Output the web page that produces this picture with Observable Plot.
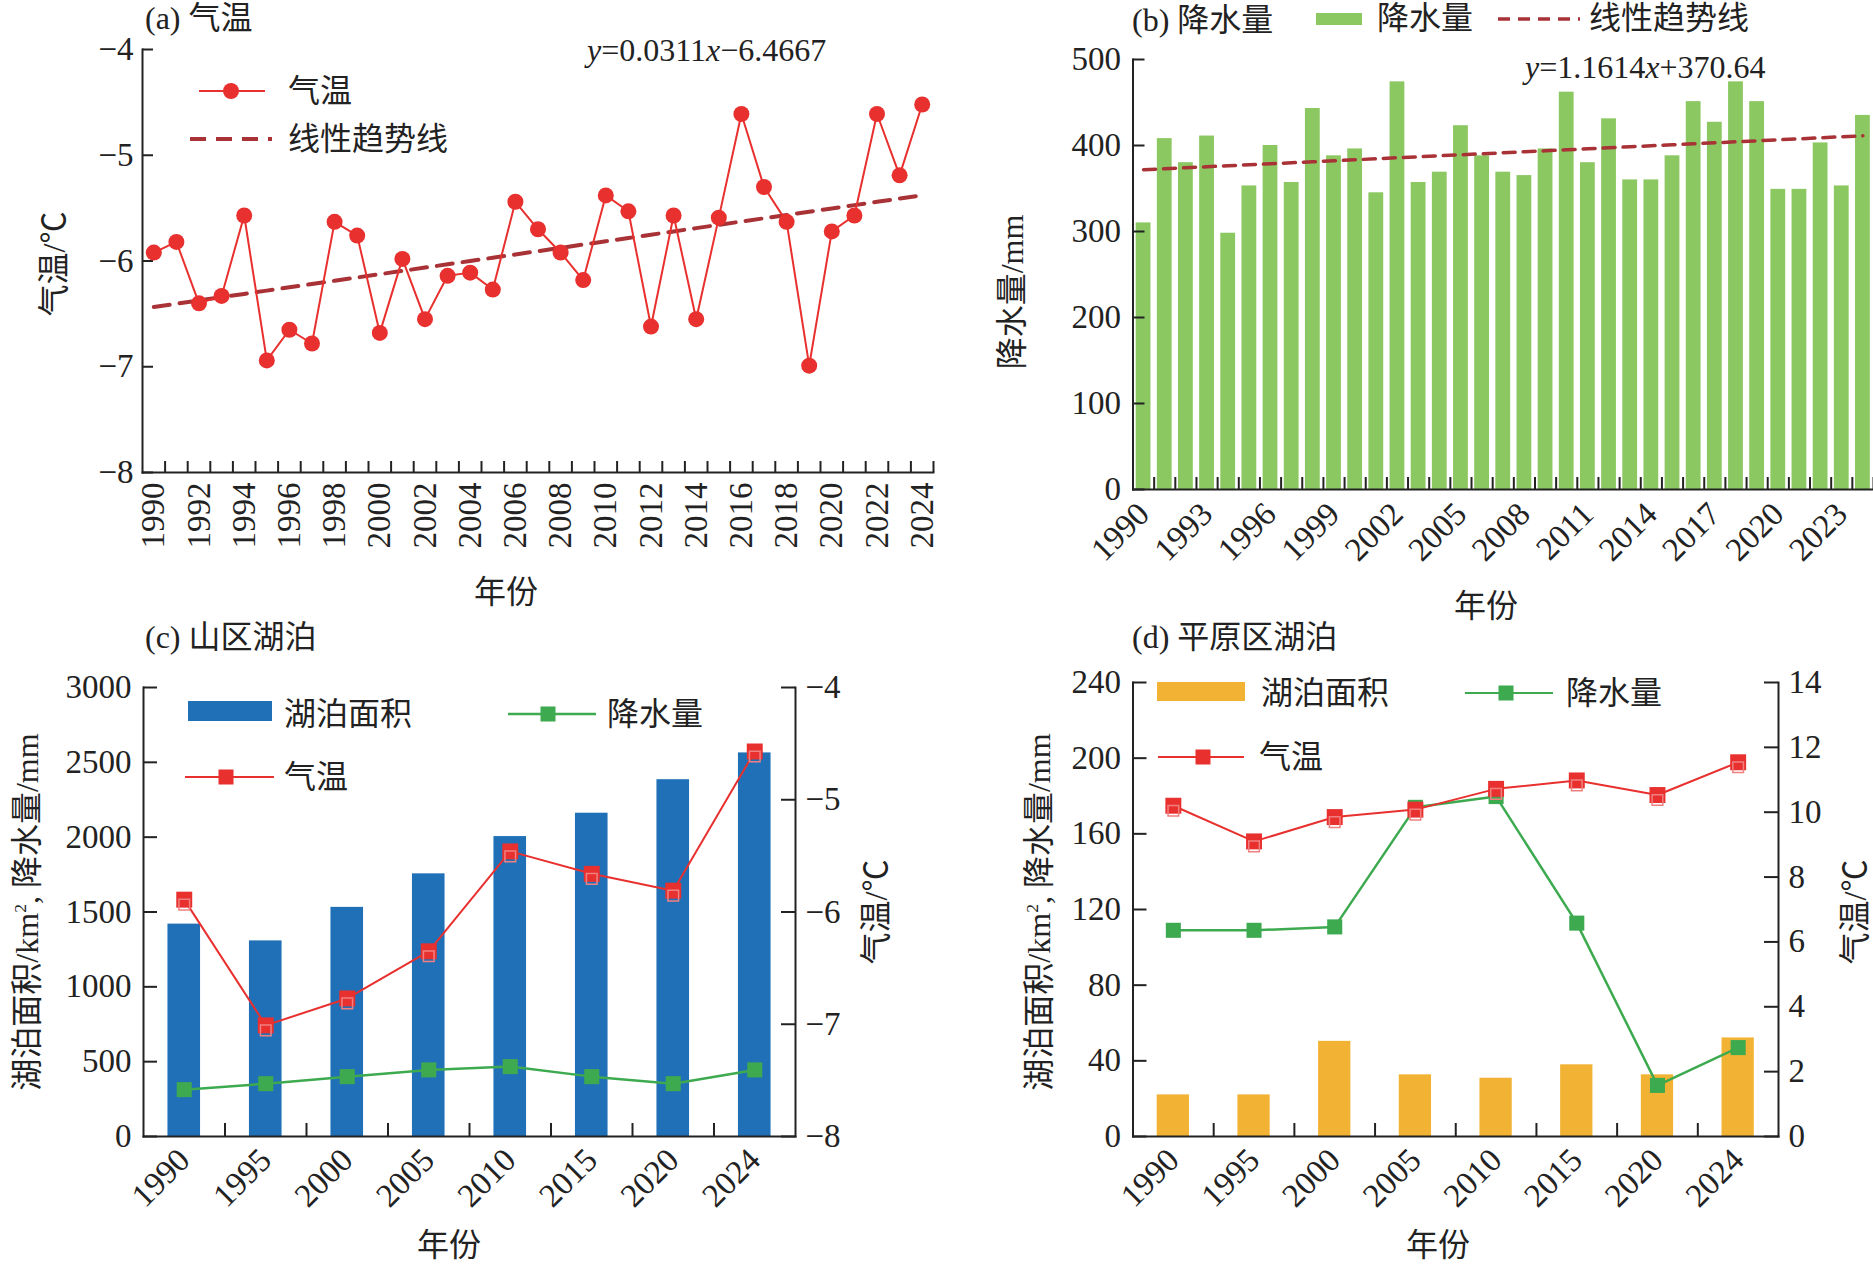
<!DOCTYPE html>
<html><head><meta charset="utf-8">
<script src="https://cdn.jsdelivr.net/npm/d3@7"></script>
<script src="https://cdn.jsdelivr.net/npm/@observablehq/plot@0.6"></script>
<style>
body{margin:0;background:#fff;}
#page{position:relative;width:1873px;height:1264px;overflow:hidden;font-family:"Liberation Serif","Noto Sans CJK SC",serif;color:#222;}
.box{position:absolute;}
.t{position:absolute;white-space:nowrap;font-size:32px;line-height:1;transform:translateY(-50%);}
.rot{position:absolute;white-space:nowrap;font-size:32px;line-height:1;transform:translate(-50%,-50%) rotate(-90deg);}
.ctr{position:absolute;white-space:nowrap;font-size:32px;line-height:1;transform:translate(-50%,-50%);}
sup{font-size:0.55em;vertical-align:0.7em;line-height:0;}
</style></head><body><div id="page"></div>
<script>
// ---------------- data ----------------
const years = [1990,1991,1992,1993,1994,1995,1996,1997,1998,1999,2000,2001,2002,2003,2004,2005,2006,2007,2008,2009,2010,2011,2012,2013,2014,2015,2016,2017,2018,2019,2020,2021,2022,2023,2024];
const tempA = [-5.92,-5.82,-6.40,-6.33,-5.57,-6.94,-6.65,-6.78,-5.63,-5.76,-6.68,-5.98,-6.55,-6.14,-6.11,-6.27,-5.44,-5.70,-5.92,-6.18,-5.38,-5.53,-6.62,-5.57,-6.55,-5.59,-4.61,-5.30,-5.63,-6.99,-5.72,-5.57,-4.61,-5.19,-4.52];
const trendA = {slope: 0.0311, intercept: -6.4667};
const precipB = [310,408,380,411,298,353,400,357,443,388,396,345,474,357,369,423,388,369,365,396,462,380,431,360,360,388,451,427,474,451,349,349,403,353,435];
const trendB = {slope: 1.1614, intercept: 370.64};
const periods = ["1990","1995","2000","2005","2010","2015","2020","2024"];
const mtnArea = [1419,1307,1531,1755,2004,2160,2384,2563];
const mtnPrecip = [313,353,400,445,467,400,353,445];
const mtnTemp = [-5.89,-7.01,-6.77,-6.35,-5.46,-5.66,-5.81,-4.57];
const plainArea = [22,22,50.3,32.6,30.8,37.9,32.6,52.1];
const plainPrecip = [109,109,110.8,174,179.7,112.8,27,47];
const plainTemp = [10.2,9.1,9.85,10.08,10.72,10.98,10.53,11.54];
const ticksTempA = [-8,-7,-6,-5,-4];
const ticksPrecipB = [0,100,200,300,400,500];
const ticksLeftC = [0,500,1000,1500,2000,2500,3000];
const ticksRightC = [-8,-7,-6,-5,-4];
const ticksLeftD = [0,40,80,120,160,200,240];
const ticksRightD = [0,2,4,6,8,10,12,14];

// ---------------- style ----------------
const FONT = '"Liberation Serif","Noto Sans CJK SC",serif';
const AX = "#222";
const RED = "#e8302e", DRED = "#a83236", GREEN = "#3daa50", BGREEN = "#8cc862", BLUE = "#2070b8", YELLOW = "#f2b233";
const fmtMinus = d => d < 0 ? "\u2212" + Math.abs(d) : String(d);
const plain = d => String(d);
const baseStyle = {fontFamily: FONT, fontSize: "33px", color: AX, background: "transparent", overflow: "visible"};
const page = document.getElementById("page");
function place(node, left, top, w, h) {
  const d = document.createElement("div");
  d.className = "box";
  d.style.left = left + "px"; d.style.top = top + "px";
  d.style.width = w + "px"; d.style.height = h + "px";
  d.appendChild(node); page.appendChild(d);
}
function text(cls, html, x, y) {
  const d = document.createElement("div");
  d.className = cls; d.innerHTML = html;
  d.style.left = x + "px"; d.style.top = y + "px";
  page.appendChild(d);
}

// ---------------- (a) ----------------
{
  const W = 940, H = 620, ml = 142, mr = 7, mt = 49, mb = 148;
  const iw = W - ml - mr, ih = H - mt - mb;
  const data = years.map((y, i) => ({year: y, temp: tempA[i], trend: trendA.slope * (i + 1) + trendA.intercept}));
  const bounds = years.map(y => y + 0.5);
  const p = Plot.plot({
    width: W, height: H, marginLeft: ml, marginRight: mr, marginTop: mt, marginBottom: mb,
    style: baseStyle,
    x: {domain: [years[0] - 0.5, years[years.length - 1] + 0.5]},
    y: {domain: [-8, -4]},
    marks: [
      Plot.tickX(bounds, {x: d => d, insetTop: ih - 11, stroke: AX, strokeWidth: 2}),
      Plot.tickY(ticksTempA, {y: d => d, insetRight: iw - 11, stroke: AX, strokeWidth: 2}),
      Plot.frame({anchor: "left", stroke: AX, strokeWidth: 2}),
      Plot.frame({anchor: "bottom", stroke: AX, strokeWidth: 2}),
      Plot.axisY({ticks: ticksTempA, tickSize: 0, tickPadding: 9, tickFormat: fmtMinus, label: null}),
      Plot.axisX({ticks: years.filter((y, i) => i % 2 === 0), tickSize: 0, tickPadding: 10, tickRotate: -90, tickFormat: plain, label: null}),
      Plot.line(data, {x: "year", y: "trend", stroke: DRED, strokeWidth: 4, strokeDasharray: "16 10"}),
      Plot.line(data, {x: "year", y: "temp", stroke: RED, strokeWidth: 2}),
      Plot.dot(data, {x: "year", y: "temp", fill: RED, r: 8})
    ]
  });
  place(p, 0, 0, W, H);
}

// ---------------- (b) ----------------
{
  const W = 943, H = 620, ml = 202.5, mr = 0, mt = 59, mb = 131;
  const iw = W - ml - mr, ih = H - mt - mb;
  const step = iw / years.length;
  const data = years.map((y, i) => ({year: y, precip: precipB[i], trend: trendB.slope * (i + 1) + trendB.intercept}));
  const p = Plot.plot({
    width: W, height: H, marginLeft: ml, marginRight: mr, marginTop: mt, marginBottom: mb,
    style: baseStyle,
    x: {type: "band", domain: years, paddingInner: 0.3, paddingOuter: 0.15, round: false},
    y: {domain: [0, 500]},
    marks: [
      Plot.barY(data, {x: "year", y: "precip", fill: BGREEN}),
      Plot.tickX(years, {x: d => d, dx: step / 2, insetTop: ih - 12, stroke: AX, strokeWidth: 2}),
      Plot.tickY(ticksPrecipB, {y: d => d, insetRight: iw - 12, stroke: AX, strokeWidth: 2}),
      Plot.frame({anchor: "left", stroke: AX, strokeWidth: 2}),
      Plot.frame({anchor: "bottom", stroke: AX, strokeWidth: 2}),
      Plot.axisY({ticks: ticksPrecipB, tickSize: 0, tickPadding: 12, tickFormat: plain, label: null}),
      Plot.axisX({ticks: years.filter((y, i) => i % 3 === 0), tickSize: 0, tickPadding: 19, tickRotate: -45, tickFormat: plain, label: null}),
      Plot.line(data, {x: "year", y: "trend", stroke: DRED, strokeWidth: 3.5, strokeDasharray: "12 8"})
    ]
  });
  place(p, 930, 0, W, H);
}

// ---------------- (c) / (d) helper ----------------
function lakePanel({left, top, W, H, ml, mr, mt, mb, area, precip, temp, color, leftTicks, rightTicks, rightDomain, leftDomain, rightFmt}) {
  const iw = W - ml - mr, ih = H - mt - mb;
  const step = iw / periods.length;
  const data = periods.map((p, i) => ({period: p, area: area[i], precip: precip[i], temp: temp[i]}));
  const xs = {type: "band", domain: periods, paddingInner: 0.6, paddingOuter: 0.3, round: false};
  const main = Plot.plot({
    width: W, height: H, marginLeft: ml, marginRight: mr, marginTop: mt, marginBottom: mb,
    style: baseStyle,
    x: xs, y: {domain: leftDomain},
    marks: [
      Plot.barY(data, {x: "period", y: "area", fill: color}),
      Plot.tickX(periods.slice(0, -1), {x: d => d, dx: step / 2, insetTop: ih - 13, stroke: AX, strokeWidth: 2}),
      Plot.tickY(leftTicks, {y: d => d, insetRight: iw - 14, stroke: AX, strokeWidth: 2}),
      Plot.frame({anchor: "left", stroke: AX, strokeWidth: 2}),
      Plot.frame({anchor: "bottom", stroke: AX, strokeWidth: 2}),
      Plot.axisY({ticks: leftTicks, tickSize: 0, tickPadding: 12, tickFormat: plain, label: null}),
      Plot.axisX({tickSize: 0, tickPadding: 18, tickRotate: -45, label: null}),
      Plot.line(data, {x: "period", y: "precip", stroke: GREEN, strokeWidth: 2.5}),
      Plot.dot(data, {x: "period", y: "precip", symbol: "square", fill: GREEN, r: 8.5})
    ]
  });
  place(main, left, top, W, H);
  const over = Plot.plot({
    width: W, height: H, marginLeft: ml, marginRight: mr, marginTop: mt, marginBottom: mb,
    style: baseStyle,
    x: {...xs, axis: null}, y: {domain: rightDomain},
    marks: [
      Plot.tickY(rightTicks, {y: d => d, insetLeft: iw - 14, stroke: AX, strokeWidth: 2}),
      Plot.frame({anchor: "right", stroke: AX, strokeWidth: 2}),
      Plot.axisY({anchor: "right", ticks: rightTicks, tickSize: 0, tickPadding: 10, tickFormat: rightFmt, label: null}),
      Plot.line(data, {x: "period", y: "temp", stroke: RED, strokeWidth: 2}),
      Plot.dot(data, {x: "period", y: "temp", symbol: "square", fill: RED, r: 9}),
      Plot.dot(data, {x: "period", y: "temp", symbol: "square", fill: "none", stroke: "#f08080", strokeWidth: 1.5, r: 6, dy: 5})
    ]
  });
  place(over, left, top, W, H);
}

lakePanel({left: 0, top: 620, W: 940, H: 644, ml: 143, mr: 145, mt: 67, mb: 128,
  area: mtnArea, precip: mtnPrecip, temp: mtnTemp, color: BLUE,
  leftTicks: ticksLeftC, rightTicks: ticksRightC, leftDomain: [0, 3000], rightDomain: [-8, -4], rightFmt: fmtMinus});
lakePanel({left: 930, top: 620, W: 943, H: 644, ml: 202.5, mr: 95, mt: 62, mb: 128,
  area: plainArea, precip: plainPrecip, temp: plainTemp, color: YELLOW,
  leftTicks: ticksLeftD, rightTicks: ticksRightD, leftDomain: [0, 240], rightDomain: [0, 14], rightFmt: plain});

// ---------------- texts ----------------
text("t", "(a) 气温", 145, 18);
text("t", "<i>y</i>=0.0311<i>x</i>\u22126.4667", 587, 50);
text("t", "气温", 288, 91);
text("t", "线性趋势线", 288, 139);
text("rot", "气温/℃", 54, 264);
text("ctr", "年份", 506, 592);

text("t", "(b) 降水量", 1132, 20);
text("t", "降水量", 1377, 18);
text("t", "线性趋势线", 1589, 18);
text("t", "<i>y</i>=1.1614<i>x</i>+370.64", 1525, 67);
text("rot", "降水量/mm", 1012, 292);
text("ctr", "年份", 1486, 606);

text("t", "(c) 山区湖泊", 145, 637);
text("t", "湖泊面积", 284, 714);
text("t", "降水量", 607, 714);
text("t", "气温", 284, 777);
text("rot", "湖泊面积/km<sup>2</sup>, 降水量/mm", 27, 912);
text("rot", "气温/℃", 876, 912);
text("ctr", "年份", 449, 1245);

text("t", "(d) 平原区湖泊", 1132, 637);
text("t", "湖泊面积", 1261, 693);
text("t", "降水量", 1566, 693);
text("t", "气温", 1259, 757);
text("rot", "湖泊面积/km<sup>2</sup>, 降水量/mm", 1039, 912);
text("rot", "气温/℃", 1855, 912);
text("ctr", "年份", 1438, 1245);

// ---------------- legend swatches ----------------
const svg = d3.select(page).append("svg")
  .attr("width", 1873).attr("height", 1264)
  .style("position", "absolute").style("left", 0).style("top", 0).style("pointer-events", "none");
function lineSw(x1, x2, y, color, w, dash) {
  svg.append("line").attr("x1", x1).attr("x2", x2).attr("y1", y).attr("y2", y)
    .attr("stroke", color).attr("stroke-width", w).attr("stroke-dasharray", dash || null);
}
function sq(cx, cy, s, color) {
  svg.append("rect").attr("x", cx - s / 2).attr("y", cy - s / 2).attr("width", s).attr("height", s).attr("fill", color);
}
// (a)
lineSw(199, 265, 91, RED, 2); svg.append("circle").attr("cx", 231).attr("cy", 91).attr("r", 8).attr("fill", RED);
lineSw(190, 272, 139, DRED, 4, "16 10");
// (b)
svg.append("rect").attr("x", 1316).attr("y", 13).attr("width", 46).attr("height", 12).attr("fill", BGREEN);
lineSw(1498, 1580, 19, DRED, 3.5, "12 8");
// (c)
svg.append("rect").attr("x", 188).attr("y", 701).attr("width", 84).attr("height", 20).attr("fill", BLUE);
lineSw(508, 596, 714, GREEN, 2.5); sq(548, 714, 15, GREEN);
lineSw(185, 274, 777, RED, 2); sq(226, 777, 15, RED);
// (d)
svg.append("rect").attr("x", 1157).attr("y", 682).attr("width", 88).attr("height", 19).attr("fill", YELLOW);
lineSw(1465, 1553, 693, GREEN, 2); sq(1506, 693, 15, GREEN);
lineSw(1158, 1244, 757, RED, 2); sq(1203, 757, 15, RED);
</script></body></html>
